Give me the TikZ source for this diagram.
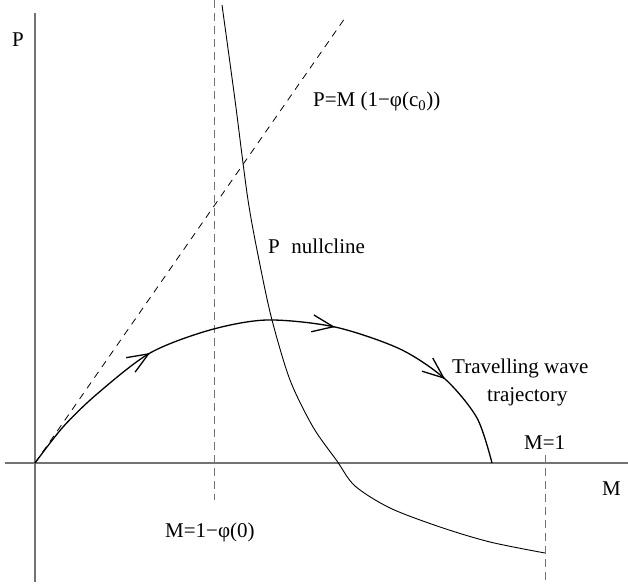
\documentclass[tikz,border=0pt]{standalone}
\usepackage{fontspec}
\setmainfont{Liberation Serif}
\usetikzlibrary{arrows.meta,calc}
\tikzset{
  axisline/.style={draw=black!55, line width=1.1pt},
  guide/.style={draw=black!55, line width=1pt, dash pattern=on 8pt off 5pt},
  slopeline/.style={draw=black, line width=0.8pt, dash pattern=on 7pt off 6pt},
  trajline/.style={draw=black, line width=1.3pt},
  nullline/.style={draw=black, line width=0.9pt},
  barb/.style={draw=black, line width=1.3pt, -{Straight Barb[length=21pt,width=17pt]}},
  lbl/.style={inner sep=0pt, anchor=base west, font=\fontsize{21}{25}\selectfont}
}
\begin{document}
\begin{tikzpicture}[x=1pt,y=-1pt]
\useasboundingbox (0,0) rectangle (628,585);
% axes
\coordinate (ytop) at (35,13);
\coordinate (ybot) at (35,582);
\coordinate (xl) at (5,463);
\coordinate (xr) at (628,463);
\draw[axisline] (ybot) -- (ytop);
\draw[axisline] (xl) -- (xr);
% guides
\coordinate (g1t) at (214,0);
\coordinate (g1b) at (214,500);
\coordinate (g2t) at (545,455);
\coordinate (g2b) at (545,585);
\draw[guide] (g1t) -- (g1b);
\draw[guide] (g2t) -- (g2b);
% slope line
\coordinate (o) at (35,463);
\coordinate (s1) at (345,18);
\draw[slopeline] (o) -- (s1);
% nullcline
\draw[nullline] plot[smooth, tension=0.5] coordinates {(222,5) (235,100) (248,200) (260,265) (272,320) (290,380) (313,427) (337,461) (355,486) (390,508) (440,527) (490,542) (545,553)};
% trajectory
\draw[trajline] plot[smooth, tension=0.5] coordinates {(35,463) (63,427) (97,394) (150,353) (210,330) (267,320) (335,327) (400,349) (445,379) (477,418) (492,463)};
% arrowheads
\coordinate (a1) at (150,353);
\coordinate (b1) at (67,404);
\coordinate (a2) at (335,327);
\coordinate (b2) at (242,312);
\coordinate (a3) at (445,379);
\coordinate (b3) at (385,330);
\draw[barb] ($(a1)!1pt!(b1)$) -- (a1);
\draw[barb] ($(a2)!1pt!(b2)$) -- (a2);
\draw[barb] ($(a3)!1pt!(b3)$) -- (a3);
% labels
\node[lbl] (lp) at (12,47) {P};
\node[lbl] (lm) at (602,495) {M};
\node[lbl] (lslope) at (313,107) {P=M (1−φ(c\textsubscript{0}))};
\node[lbl] (lnull) at (268,253) {P\hspace{0.55em}nullcline};
\node[lbl] (lm1) at (524,449) {M=1};
\node[lbl] (lmphi) at (165,537) {M=1−φ(0)};
\node[lbl] (ltw1) at (452,373) {Travelling wave};
\node[lbl] (ltw2) at (487,401) {trajectory};
\end{tikzpicture}
\end{document}
